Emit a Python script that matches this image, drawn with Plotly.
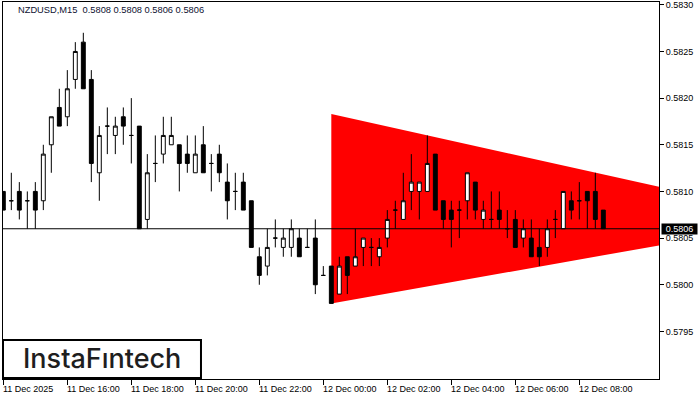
import plotly.graph_objects as go

symbol_title = "NZDUSD,M15  0.5808 0.5808 0.5806 0.5806"
logo_text = "InstaFıntech"

bar_index = list(range(76))
opens = [0.5810, 0.5809, 0.5810, 0.5809, 0.5810, 0.5809, 0.5815, 0.5819, 0.5818, 0.5822,
         0.5826, 0.5822, 0.5812, 0.5817, 0.5816, 0.5818, 0.5816, 0.5817, 0.5807, 0.5813,
         0.5814, 0.5815, 0.5815, 0.5814, 0.5812, 0.5815, 0.5813, 0.5814, 0.5811, 0.5810,
         0.5811, 0.5809, 0.5803, 0.5802, 0.5805, 0.5804, 0.5804, 0.5805, 0.5804, 0.5805,
         0.5801, 0.5802, 0.5799, 0.5803, 0.5802, 0.5804, 0.5804, 0.5803, 0.5805, 0.5808,
         0.5807, 0.5810, 0.5810, 0.5810, 0.5814, 0.5809, 0.5808, 0.5808, 0.5809, 0.5811,
         0.5807, 0.5807, 0.5808, 0.5806, 0.5807, 0.5805, 0.5805, 0.5804, 0.5804, 0.5807,
         0.5806, 0.5809, 0.5809, 0.5810, 0.5810, 0.5808]
highs = [0.5810, 0.5812, 0.5811, 0.5810, 0.5811, 0.5815, 0.5818, 0.5821, 0.5823, 0.5826,
         0.5827, 0.5823, 0.5817, 0.5819, 0.5818, 0.5819, 0.5820, 0.5817, 0.5814, 0.5816,
         0.5818, 0.5818, 0.5815, 0.5816, 0.5816, 0.5817, 0.5814, 0.5815, 0.5813, 0.5812,
         0.5812, 0.5809, 0.5804, 0.5806, 0.5807, 0.5806, 0.5807, 0.5806, 0.5806, 0.5807,
         0.5802, 0.5802, 0.5803, 0.5803, 0.5806, 0.5805, 0.5805, 0.5805, 0.5808, 0.5809,
         0.5812, 0.5814, 0.5811, 0.5816, 0.5814, 0.5809, 0.5809, 0.5809, 0.5812, 0.5811,
         0.5809, 0.5810, 0.5810, 0.5808, 0.5808, 0.5807, 0.5807, 0.5806, 0.5807, 0.5808,
         0.5810, 0.5810, 0.5811, 0.5810, 0.5812, 0.5808]
lows = [0.5808, 0.5808, 0.5807, 0.5806, 0.5806, 0.5808, 0.5812, 0.5817, 0.5817, 0.5821,
        0.5821, 0.5811, 0.5809, 0.5814, 0.5814, 0.5815, 0.5813, 0.5806, 0.5806, 0.5811,
        0.5813, 0.5815, 0.5810, 0.5812, 0.5812, 0.5812, 0.5810, 0.5811, 0.5807, 0.5808,
        0.5808, 0.5804, 0.5800, 0.5801, 0.5804, 0.5803, 0.5803, 0.5803, 0.5804, 0.5799,
        0.5801, 0.5798, 0.5799, 0.5799, 0.5802, 0.5802, 0.5802, 0.5802, 0.5804, 0.5806,
        0.5807, 0.5808, 0.5807, 0.5810, 0.5808, 0.5806, 0.5804, 0.5805, 0.5807, 0.5807,
        0.5806, 0.5806, 0.5806, 0.5805, 0.5804, 0.5804, 0.5803, 0.5802, 0.5803, 0.5805,
        0.5806, 0.5807, 0.5807, 0.5806, 0.5806, 0.5806]
closes = [0.5808, 0.5809, 0.5808, 0.5809, 0.5808, 0.5814, 0.5818, 0.5817, 0.5821, 0.5825,
          0.5821, 0.5813, 0.5816, 0.5817, 0.5817, 0.5817, 0.5816, 0.5806, 0.5812, 0.5813,
          0.5816, 0.5816, 0.5813, 0.5813, 0.5814, 0.5812, 0.5813, 0.5812, 0.5809, 0.5810,
          0.5808, 0.5804, 0.5801, 0.5804, 0.5805, 0.5805, 0.5806, 0.5803, 0.5804, 0.5800,
          0.5801, 0.5798, 0.5802, 0.5801, 0.5803, 0.5805, 0.5804, 0.5804, 0.5807, 0.5808,
          0.5809, 0.5811, 0.5811, 0.5813, 0.5808, 0.5807, 0.5807, 0.5808, 0.5812, 0.5808,
          0.5808, 0.5807, 0.5807, 0.5806, 0.5804, 0.5806, 0.5803, 0.5803, 0.5806, 0.5807,
          0.5810, 0.5808, 0.5809, 0.5809, 0.5807, 0.5806]

x_tick_bars = [0, 8, 16, 24, 32, 40, 48, 56, 64, 72]
x_tick_labels = ["11 Dec 2025", "11 Dec 16:00", "11 Dec 18:00", "11 Dec 20:00", "11 Dec 22:00",
                 "12 Dec 00:00", "12 Dec 02:00", "12 Dec 04:00", "12 Dec 06:00", "12 Dec 08:00"]
y_tick_values = [0.5795, 0.5800, 0.5805, 0.5810, 0.5815, 0.5820, 0.5825, 0.5830]
y_tick_labels = ["0.5795", "0.5800", "0.5805", "0.5810", "0.5815", "0.5820", "0.5825", "0.5830"]

current_price = 0.5806
current_label = "0.5806"

# symmetrical triangle pattern (left top, left bottom, apex)
triangle_bars = [41, 41, 100.3]
triangle_prices = [0.58183, 0.57980, 0.58070]

FONT = "Liberation Sans, Arial, sans-serif"

fig = go.Figure()
fig.add_trace(go.Candlestick(
    x=bar_index, open=opens, high=highs, low=lows, close=closes,
    increasing=dict(line=dict(color="black", width=1), fillcolor="white"),
    decreasing=dict(line=dict(color="black", width=1), fillcolor="black"),
    whiskerwidth=0, showlegend=False, hoverinfo="skip",
))

tri_path = "M {} {} L {} {} L {} {} Z".format(
    triangle_bars[0], triangle_prices[0], triangle_bars[1], triangle_prices[1],
    triangle_bars[2], triangle_prices[2])
fig.add_shape(type="path", path=tri_path, xref="x", yref="y",
              fillcolor="#ff0000", line=dict(width=0), layer="below")
fig.add_shape(type="line", xref="paper", x0=0, x1=1, yref="y", y0=current_price, y1=current_price,
              line=dict(color="black", width=1))

# logo box
fig.add_shape(type="rect", xref="paper", yref="paper", x0=0, x1=0.3018, y0=0.0027, y1=0.1034,
              line=dict(color="black", width=2), fillcolor="white", layer="above")
fig.add_annotation(xref="paper", yref="paper", x=0.1505, y=0.054, text=logo_text, showarrow=False,
                   font=dict(family="Inter, Lato, sans-serif", size=27, color="#1e1e1e", weight=500),
                   xanchor="center", yanchor="middle")

# title
fig.add_annotation(xref="paper", yref="paper", x=0.0229, y=0.978, text=symbol_title, showarrow=False,
                   font=dict(family=FONT, size=9.3, color="#0d1030"), xanchor="left", yanchor="middle",
                   xshift=-2)

# x tick labels, left-aligned at ticks
for b, lab in zip(x_tick_bars, x_tick_labels):
    fig.add_annotation(xref="x", yref="paper", x=b, y=-0.0252, text=lab, showarrow=False,
                       font=dict(family=FONT, size=9, color="black"), xanchor="left",
                       yanchor="middle", xshift=-2)

# current price box
fig.add_annotation(xref="paper", yref="y", x=1, y=current_price, text=current_label, showarrow=False,
                   font=dict(family=FONT, size=9, color="white"), bgcolor="black",
                   xanchor="left", yanchor="middle", xshift=2, width=34, height=9, borderpad=0.5)

fig.update_layout(
    width=700, height=400,
    margin=dict(l=3, r=41, t=2, b=21),
    paper_bgcolor="white", plot_bgcolor="white",
    hovermode=False, showlegend=False,
    xaxis=dict(range=[-0.04, 81.96], showgrid=False, zeroline=False, showline=True,
               linecolor="black", linewidth=1, mirror=True, ticks="outside", ticklen=5,
               tickcolor="black", tickwidth=1, tickvals=x_tick_bars, showticklabels=False,
               rangeslider=dict(visible=False), fixedrange=True),
    yaxis=dict(range=[0.57899, 0.58303], side="right", showgrid=False, zeroline=False,
               showline=True, linecolor="black", linewidth=1, mirror=True, ticks="outside",
               ticklen=4, tickcolor="black", tickwidth=1, tickvals=y_tick_values,
               ticktext=y_tick_labels, tickfont=dict(family=FONT, size=9, color="black"),
               ticklabeloverflow="allow", fixedrange=True, automargin=False),
)

fig.write_html("out.html", config={"displayModeBar": False},
               post_script="document.body.style.margin='0px';document.body.style.padding='0px';")
